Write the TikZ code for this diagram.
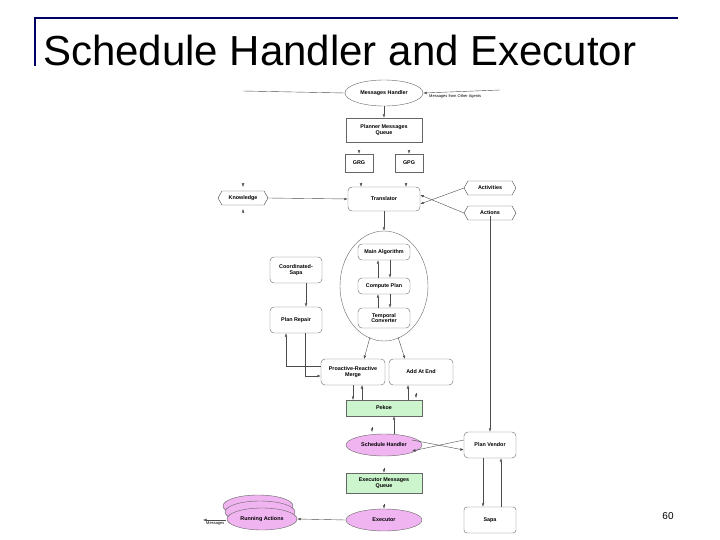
\documentclass[tikz,border=0pt]{standalone}
\usepackage{fontspec}
\setmainfont{Liberation Sans}
\usetikzlibrary{shapes.geometric,arrows.meta}
\definecolor{pk}{RGB}{240,180,240}
\definecolor{gr}{RGB}{205,245,205}
\begin{document}
\begin{tikzpicture}[x=1pt,y=-1pt,
  every node/.style={font=\fontsize{5.4}{5.8}\selectfont\bfseries,align=center,inner sep=1pt},
  bx/.style={draw=black!60,line width=0.4pt,minimum width=#1,minimum height=22},
  bx/.default=52,
  rbx/.style={bx=#1,rounded corners=4},
  rbx/.default=52,
  ell/.style={draw=black!60,line width=0.4pt,ellipse,minimum width=76,minimum height=22},
  ln/.style={draw=black!70,line width=0.4pt},
  ar/.style={ln,-{Latex[length=3.5pt,width=2.6pt]}}]
\useasboundingbox (0,0) rectangle (720,540);
\draw[line width=1.5pt,color={rgb,255:red,0;green,0;blue,100}] (35,66)--(35,18)--(678,18);
\node[font=\fontsize{42}{43}\selectfont,anchor=west,inner sep=0] (title) at (43,50) {Schedule Handler and Executor};
\node[font=\fontsize{10}{10}\selectfont,inner sep=0] (pg) at (668,516) {60};

\node[ell,minimum width=78,minimum height=26] (mh) at (384,93) {Messages Handler};
\coordinate (mhl) at (243,91);
\coordinate (mhr) at (500,90);
\node[font=\fontsize{4}{4}\selectfont\mdseries,anchor=west] (mfa) at (428,96) {Messages from Other Agents};
\draw[ln] (mhl) -- (mh.west);
\draw[ar] (mhr) -- (mh.east);
\node[bx=76,minimum height=24] (pmq) at (384,130) {Planner Messages\\Queue};
\draw[ar] (mh) -- (pmq);
\node[bx=28,minimum height=18] (grg) at (359,163) {GRG};
\node[bx=28,minimum height=18] (gpg) at (409,163) {GPG};
\coordinate (g1) at (359,150); \coordinate (g2) at (409,150);
\draw[ar] (g1) -- (grg.north);
\draw[ar] (g2) -- (gpg.north);

\node[rbx=72,minimum height=24] (tr) at (384,199) {Translator};
\coordinate (t1) at (361,183); \coordinate (t2) at (406,183);
\draw[ar] (t1) -- ([xshift=-23pt]tr.north);
\draw[ar] (t2) -- ([xshift=22pt]tr.north);
\node (knt) at (243,198) {Knowledge};
\draw[ln] (218,198)--(222,191)--(264,191)--(268,198)--(264,205)--(222,205)--cycle;
\coordinate (k1) at (243,183); \coordinate (k2) at (243,213);
\draw[ar] (k1) -- (243,187);
\draw[ar] (k2) -- (243,209);
\draw[ar] (268,198) -- (tr.west);
\node (act) at (490,188) {Activities};
\draw[ln] (464,188)--(468,181)--(512,181)--(516,188)--(512,195)--(468,195)--cycle;
\node (acn) at (490,213) {Actions};
\draw[ln] (464,213)--(468,206)--(512,206)--(516,213)--(512,220)--(468,220)--cycle;
\draw[ar] (464,188) -- ([yshift=-5pt]tr.east);
\draw[ar] (464,213) -- ([yshift=4pt]tr.east);

\node[ell,minimum width=88,minimum height=110] (big) at (384,286) {};
\draw[ar] (tr) -- (big.north);
\node[rbx=52,minimum height=16] (ma) at (384,252) {Main Algorithm};
\node[rbx=52,minimum height=16] (cp) at (384,286) {Compute Plan};
\node[rbx=52,minimum height=20] (tc) at (384,318) {Temporal\\Converter};
\draw[ar] ([xshift=-6pt]cp.north) -- ([xshift=-6pt]ma.south);
\draw[ar] ([xshift=6pt]ma.south) -- ([xshift=6pt]cp.north);
\draw[ar] ([xshift=-6pt]tc.north) -- ([xshift=-6pt]cp.south);
\draw[ar] ([xshift=6pt]cp.south) -- ([xshift=6pt]tc.north);

\node[rbx=52,minimum height=26] (cs) at (296,270) {Coordinated-\\Sapa};
\node[rbx=52,minimum height=26] (pr) at (296,320) {Plan Repair};
\draw[ar] ([xshift=10pt]cs.south) -- ([xshift=10pt]pr.north);
\node[rbx=64,minimum height=26] (prm) at (353,372) {Proactive-Reactive\\Merge};
\node[rbx=64,minimum height=26] (aae) at (421,372) {Add At End};
\draw[ar] (370,337) -- (364,359);
\draw[ar] (398,337) -- (405,359);
\draw[ar] ([xshift=9pt]pr.south) |- ([yshift=-4pt]prm.west);
\draw[ar] ([yshift=6pt]prm.west) -| ([xshift=-10pt]pr.south);

\node[bx=76,minimum height=16,fill=gr] (pk) at (384,408) {Pekoe};
\draw[ar] (353,385) -- (353,400);
\draw[ar] (362,400) -- (362,385);
\draw[ar] (408,400) -- (408,385);
\coordinate (pk3) at (416,393);
\draw[ar] (pk3) -- (416,398);

\node[ell,fill=pk] (sh) at (384,445) {Schedule Handler};
\draw[ar] ([xshift=10pt]sh.north) -- ([xshift=10pt]pk.south);
\coordinate (s1) at (372,427);
\draw[ar] (s1) -- (372,432);
\node[rbx=52,minimum height=26] (pv) at (490,445) {Plan Vendor};
\draw[ar] (acn.south) -- (pv.north);
\draw[ar] (412,440) -- ([yshift=-5pt]pv.west);
\draw[ar] ([yshift=5pt]pv.west) -- (412,451);

\node[bx=76,minimum height=20,fill=gr] (emq) at (384,483) {Executor Messages\\Queue};
\coordinate (e1) at (384,468);
\draw[ar] (e1) -- (emq.north);
\node[ell,fill=pk] (ex) at (384,520) {Executor};
\coordinate (e2) at (384,504);
\draw[ar] (e2) -- (ex.north);

\node[ell,minimum width=70,fill=pk] (ra1) at (258,506) {};
\node[ell,minimum width=70,fill=pk] (ra2) at (260,512) {};
\node[ell,minimum width=70,fill=pk] (ra) at (262,519) {Running Actions};
\draw[ar] (ex.west) -- (ra.east);
\coordinate (msg) at (203,520);
\node[font=\fontsize{4}{4}\selectfont\mdseries,anchor=west] (msgt) at (205,524) {Messages};
\draw[ar] (226,520) -- (msg);
\node[bx=52,minimum height=26,rounded corners=3] (sa) at (490,520) {Sapa};
\draw[ar] ([xshift=-7pt]pv.south) -- ([xshift=-7pt]sa.north);
\draw[ar] ([xshift=11pt]sa.north) -- ([xshift=11pt]pv.south);
\end{tikzpicture}
\end{document}
